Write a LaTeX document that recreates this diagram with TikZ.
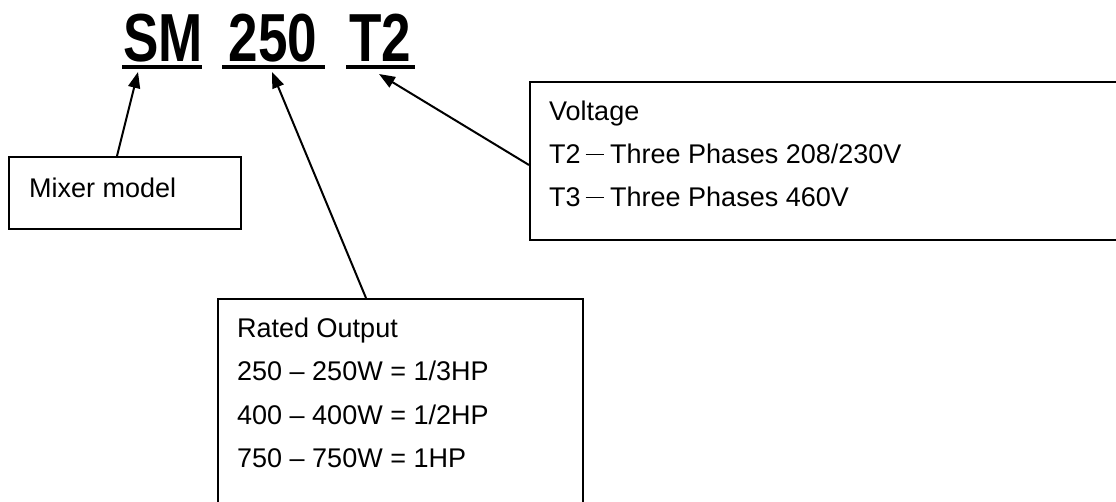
\documentclass[tikz,border=0pt]{standalone}
\usepackage{fontspec}
\usepackage{graphicx}
\setmainfont{Liberation Sans}
\usetikzlibrary{arrows.meta,calc}
\newcommand{\mydashrule}{\hspace{5pt}\rule[9pt]{18pt}{1.2pt}\hspace{6.5pt}}
\begin{document}
\begin{tikzpicture}[x=1pt,y=-1pt,
  box/.style={draw, line width=2pt, inner sep=0pt},
  txt/.style={font=\fontsize{27}{30}\selectfont, inner sep=0pt, anchor=base west},
  ttl/.style={font=\fontsize{68}{70}\selectfont\bfseries, inner sep=0pt, anchor=base},
  uline/.style={line width=4pt},
  arr/.style={line width=2pt, -{Triangle[length=16pt,width=12pt]}}]
\useasboundingbox (0,0) rectangle (1116,502);
\clip (0,0) rectangle (1116,502);

% boxes
\node[box, anchor=north west, minimum width=232pt, minimum height=72pt] (mixer) at (8,156) {};
\node[box, anchor=north west, minimum width=620pt, minimum height=158pt] (volt) at (529,81) {};
\node[box, anchor=north west, minimum width=365pt, minimum height=240pt] (rated) at (217,298) {};

% texts
\node[txt] (mixt) at (29,198) {Mixer model};
\node[txt] (v1) at (549,121) {Voltage};
\node[txt] (v2) at (549,164) {T2\mydashrule Three Phases 208/230V};
\node[txt] (v3) at (549,207) {T3\mydashrule Three Phases 460V};
\node[txt] (r1) at (237,338) {Rated Output};
\node[txt] (r2) at (237,381) {250 – 250W = 1/3HP};
\node[txt] (r3) at (237,424) {400 – 400W = 1/2HP};
\node[txt] (r4) at (237,467) {750 – 750W = 1HP};

% title
\node[ttl] (sm) at (163,62) {\scalebox{0.78}[1]{SM}};
\node[ttl] (n250) at (273,62) {\scalebox{0.78}[1]{250}};
\node[ttl] (t2) at (380.5,62) {\scalebox{0.78}[1]{T2}};
\draw[uline] (122,67) -- (202,67);
\draw[uline] (222,67) -- (325,67);
\draw[uline] (346,67) -- (415,67);

% arrows
\coordinate (smtip) at (138,72);
\coordinate (ntip) at (272,72);
\coordinate (ttip) at (379,74);
\draw[arr] ($(mixer.north west)+(109,0)$) -- (smtip);
\draw[arr] ($(rated.north west)+(149,0)$) -- (ntip);
\draw[arr] ($(volt.north west)+(0,84)$) -- (ttip);
\end{tikzpicture}
\end{document}
